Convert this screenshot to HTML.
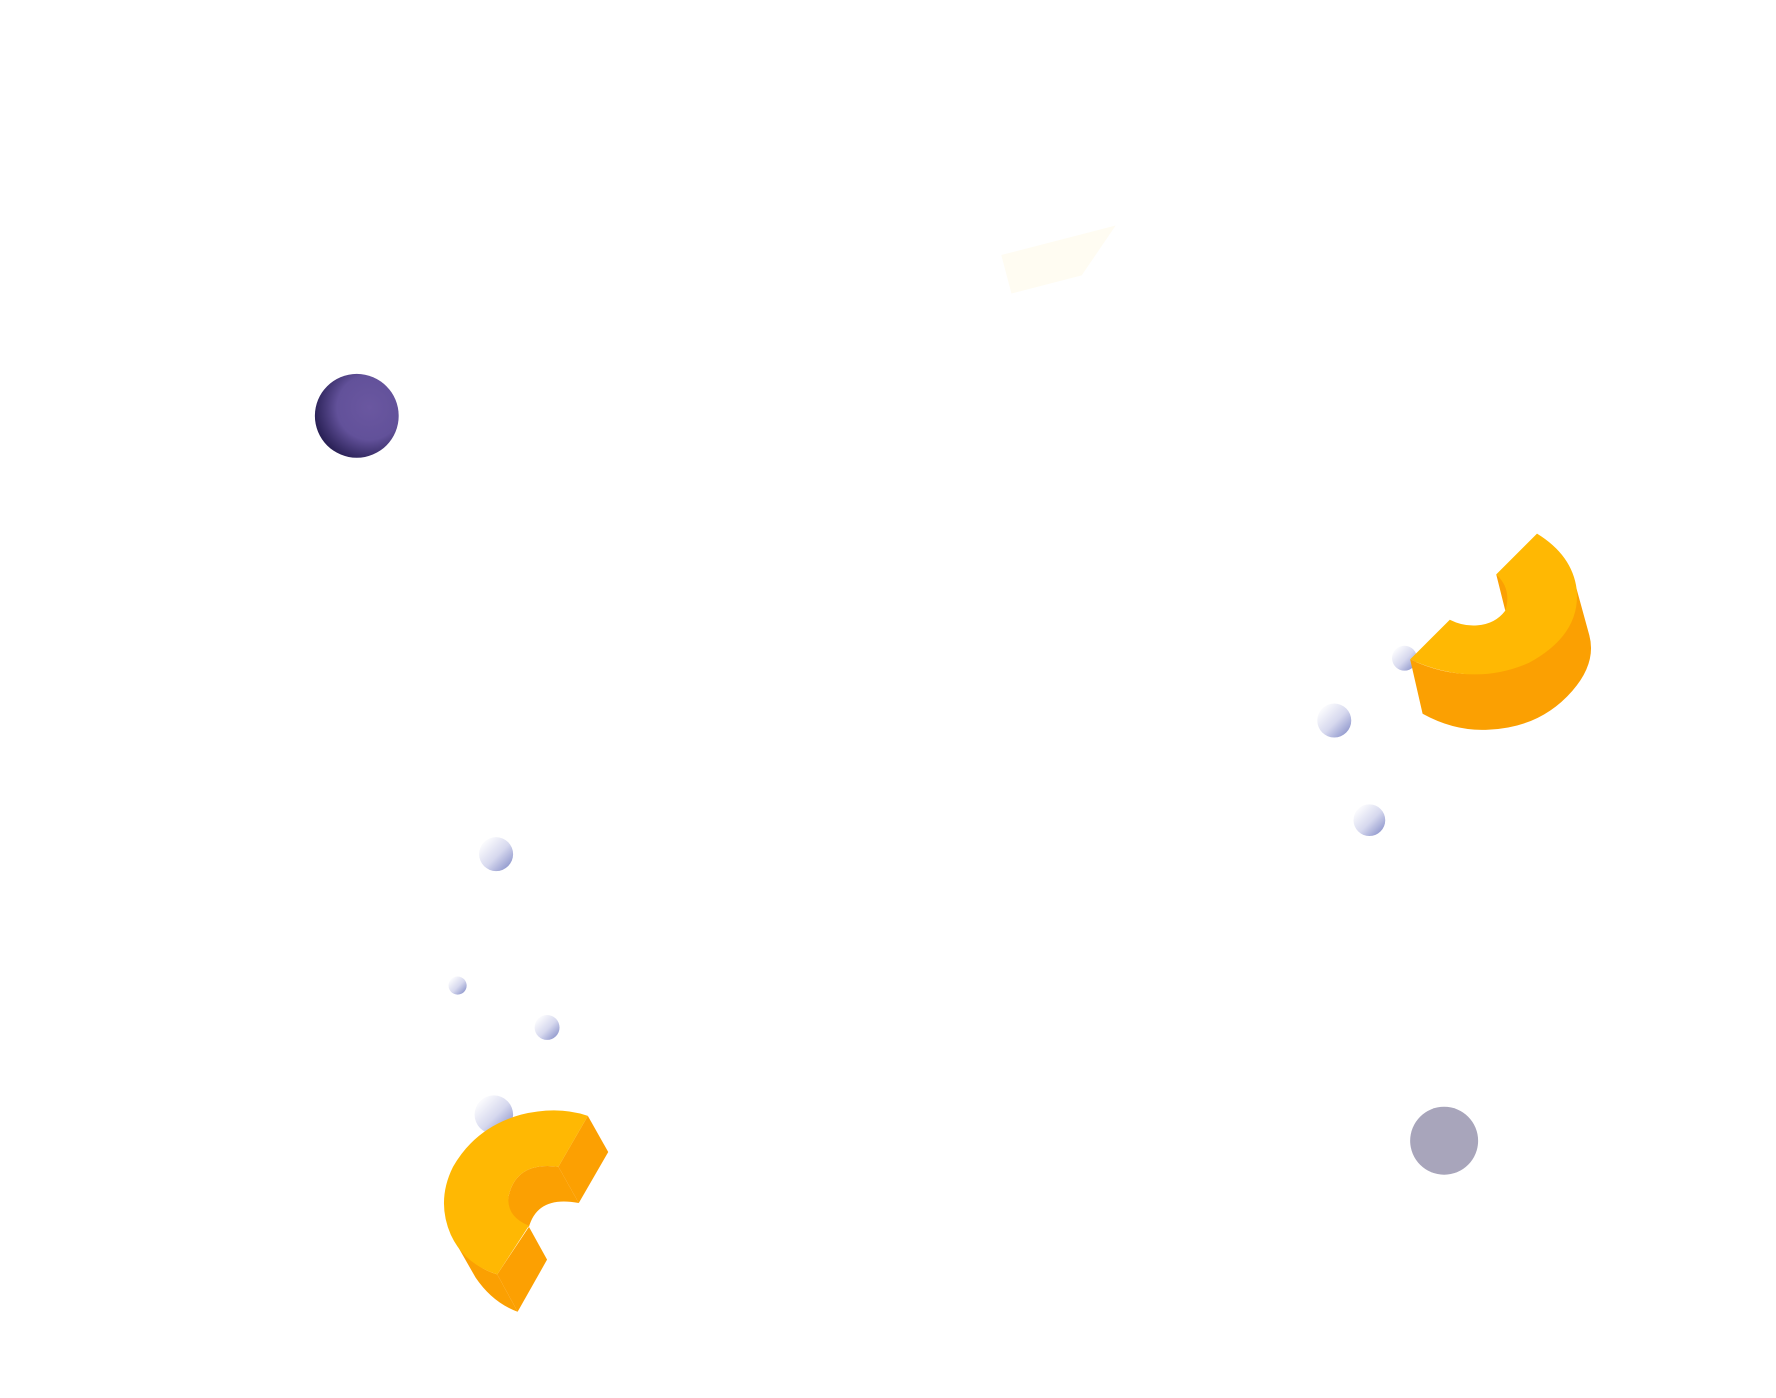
<!DOCTYPE html>
<html><head><style>html,body{margin:0;padding:0;background:#fff;}svg{display:block}</style></head>
<body>
<svg width="1776" height="1398" viewBox="0 0 1568 1234" xmlns="http://www.w3.org/2000/svg">
<defs>
<radialGradient id="pu" cx="0.65" cy="0.4" r="0.7">
<stop offset="0" stop-color="#6a57a0"/><stop offset="0.55" stop-color="#62519a"/><stop offset="1" stop-color="#231b4e"/>
</radialGradient>
<linearGradient id="sm" x1="0.1" y1="0.1" x2="0.9" y2="0.9">
<stop offset="0" stop-color="#ffffff"/><stop offset="0.55" stop-color="#d6d8ee"/><stop offset="1" stop-color="#8e96cc"/>
</linearGradient>
</defs>
<polygon points="884,225 985,199 955,243 893,259" fill="#fffcf2"/>
<circle cx="315" cy="367" r="37" fill="url(#pu)"/>
<circle cx="1275" cy="1007" r="30" fill="#a8a5bb"/>
<circle cx="438" cy="754" r="15" fill="url(#sm)"/>
<circle cx="404" cy="870" r="8" fill="url(#sm)"/>
<circle cx="483" cy="907" r="11" fill="url(#sm)"/>
<circle cx="436" cy="984" r="17" fill="url(#sm)"/>
<circle cx="1178" cy="636" r="15" fill="url(#sm)"/>
<circle cx="1209" cy="724" r="14" fill="url(#sm)"/>
<circle cx="1240" cy="581" r="11" fill="url(#sm)"/>
<!-- right shape -->
<path d="M1245,582 L1256,630 Q1285,646 1315,644 Q1360,642 1388,610 Q1410,585 1403,560 L1392,520 Q1380,570 1330,590 Q1290,603 1245,582 Z" fill="#fba002"/>
<path d="M1321,507 L1329,539 Q1338,520 1321,507 Z" fill="#fba002"/>
<path d="M1321,507 L1357,471 Q1388,490 1392,520 Q1396,560 1350,585 Q1300,607 1245,582 L1280,547 Q1292,553 1304,552 Q1320,551 1329,539 Q1335,520 1321,507 Z" fill="#ffb803"/>
<!-- left shape -->
<path d="M400,1093 L420,1128 Q435,1150 457,1158 L439,1125 Q415,1118 400,1093 Z" fill="#fba002"/>
<path d="M439,1125 L467,1083 L483,1112 L457,1158 Z" fill="#fca002"/>
<path d="M493,1030 L519,985 L537,1017 L511,1062 Z" fill="#fca002"/>
<path d="M493,1030 L511,1062 Q475,1055 467,1083 Q445,1075 449,1056 Q456,1025 493,1030 Z" fill="#fba002"/>
<path d="M519,985 L493,1030 Q456,1025 449,1056 Q447,1074 467,1082 L439,1125 Q410,1116 398,1090 Q385,1060 400,1030 Q420,995 460,984 Q492,976 519,985 Z" fill="#ffb803"/>
</svg>
</body></html>
